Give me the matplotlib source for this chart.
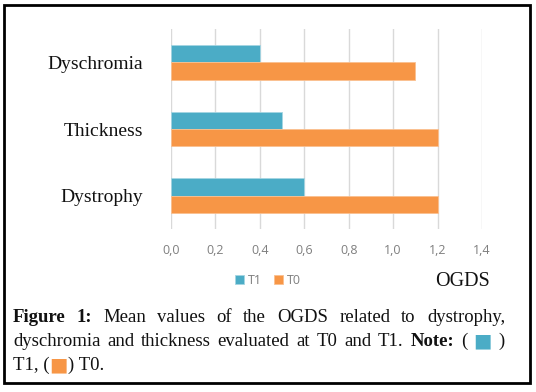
import matplotlib.pyplot as plt
from matplotlib.patches import Rectangle

categories = ["Dyschromia", "Thickness", "Dystrophy"]
t1_values = [0.4, 0.5, 0.6]
t0_values = [1.1, 1.2, 1.2]
xtick_values = [0.0, 0.2, 0.4, 0.6, 0.8, 1.0, 1.2, 1.4]
xtick_labels = ["0,0", "0,2", "0,4", "0,6", "0,8", "1,0", "1,2", "1,4"]

teal = "#4BACC6"
orange = "#F79646"
serif = "Liberation Serif"

W, H = 536, 392
fig = plt.figure(figsize=(W / 100, H / 100), dpi=100)
ax = fig.add_axes([171 / W, 1 - 229 / H, (482 - 171) / W, 200 / H])

pos = list(range(len(categories)))
h = 0.26
ax.barh([p - h / 2 for p in pos], t1_values, height=h, color=teal,
        edgecolor="#A5D5E2", linewidth=0.6, label="T1", zorder=3)
ax.barh([p + h / 2 for p in pos], t0_values, height=h, color=orange,
        edgecolor="#FAC090", linewidth=0.6, label="T0", zorder=3)

ax.set_xlim(0, 1.4)
ax.set_ylim(2.5, -0.5)
ax.set_xticks(xtick_values)
ax.set_xticklabels(xtick_labels, color="#7F7F7F", fontsize=9, family="Open Sans")
ax.set_yticks(pos)
ax.set_yticklabels(categories, fontsize=14, family=serif, color="#111111")
ax.tick_params(axis="x", length=0, pad=11)
ax.tick_params(axis="y", length=0, pad=20)
ax.grid(axis="x", color="#D9D9D9", linewidth=1, zorder=0)
for s in ax.spines.values():
    s.set_visible(False)

leg = fig.legend(loc="center", bbox_to_anchor=(268 / W, 1 - 280 / H), ncol=2,
                 frameon=False, handlelength=0.7, handleheight=0.7,
                 handletextpad=0.3, columnspacing=1.0,
                 prop={"family": "Open Sans", "size": 9})
for t in leg.get_texts():
    t.set_color("#7F7F7F")

fig.text(463 / W, 1 - 281 / H, "OGDS", ha="center", va="center",
         fontsize=14.5, family=serif, color="#111111")

# caption, laid out word by word so lines 1 and 2 are justified
fig.canvas.draw()
rend = fig.canvas.get_renderer()
cap_size = 13.5
sq = "\u25A0"


def make(txt, bold, col):
    fam = "DejaVu Sans" if txt == sq else serif
    size = 14 if txt == sq else cap_size
    return fig.text(0, 0, txt, fontsize=size, family=fam,
                    weight="bold" if bold else "normal", color=col,
                    va="baseline", ha="left")


def put_line(tokens, y, x0=13, x1=505, justify=True):
    arts = [make(*t) for t in tokens]
    widths = [a.get_window_extent(rend).width for a in arts]
    probe = fig.text(0, 0, "a a", fontsize=cap_size, family=serif)
    sp = probe.get_window_extent(rend).width
    probe.set_text("aa")
    sp -= probe.get_window_extent(rend).width
    probe.remove()
    gaps = len(arts) - 1
    if justify and gaps > 0:
        sp = (x1 - x0 - sum(widths)) / gaps
    x = x0
    for a, w in zip(arts, widths):
        a.set_position((x / W, 1 - y / H))
        x += w + sp


k = "#111111"
line1 = [("Figure", True, k), ("1:", True, k)] + \
    [(w, False, k) for w in "Mean values of the OGDS related to dystrophy,".split()]
line2 = [(w, False, k) for w in "dyschromia and thickness evaluated at T0 and T1.".split()] + \
    [("Note:", True, k), ("(", False, k), (sq, False, teal), (")", False, k)]
put_line(line1, 322)
put_line(line2, 346)

# last line, not justified
x = 13
for txt, col in [("T1, (", k), (sq, orange), (") T0.", k)]:
    a = make(txt, False, col)
    a.set_position((x / W, 1 - 370 / H))
    x += a.get_window_extent(rend).width

fig.patches.append(Rectangle((4 / W, 1 - 383 / H), 526 / W, 378 / H,
                             transform=fig.transFigure, fill=False,
                             edgecolor="black", linewidth=2))

fig.savefig("out.png", dpi=100)
